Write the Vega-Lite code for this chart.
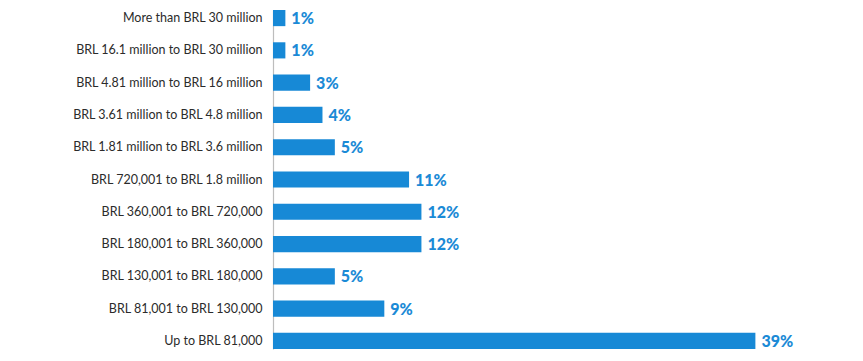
{
  "$schema": "https://vega.github.io/schema/vega-lite/v6.json",
  "width": 590,
  "height": 339,
  "autosize": {"type": "none"},
  "padding": {"left": 273, "top": 10, "right": 0, "bottom": 12},
  "background": "white",
  "config": {"view": {"stroke": null}},
  "data": {
    "values": [
      {"band": "More than BRL 30 million", "pct": 1, "label": "1%"},
      {"band": "BRL 16.1 million to BRL 30 million", "pct": 1, "label": "1%"},
      {"band": "BRL 4.81 million to BRL 16 million", "pct": 3, "label": "3%"},
      {"band": "BRL 3.61 million to BRL 4.8 million", "pct": 4, "label": "4%"},
      {"band": "BRL 1.81 million to BRL 3.6 million", "pct": 5, "label": "5%"},
      {"band": "BRL 720,001 to BRL 1.8 million", "pct": 11, "label": "11%"},
      {"band": "BRL 360,001 to BRL 720,000", "pct": 12, "label": "12%"},
      {"band": "BRL 180,001 to BRL 360,000", "pct": 12, "label": "12%"},
      {"band": "BRL 130,001 to BRL 180,000", "pct": 5, "label": "5%"},
      {"band": "BRL 81,001 to BRL 130,000", "pct": 9, "label": "9%"},
      {"band": "Up to BRL 81,000", "pct": 39, "label": "39%"}
    ]
  },
  "encoding": {
    "y": {
      "field": "band",
      "type": "nominal",
      "sort": null,
      "scale": {"paddingInner": 0.5, "paddingOuter": 0},
      "axis": {
        "title": null,
        "ticks": false,
        "domainColor": "#bdbdbd",
        "domainWidth": 1.2,
        "labelFont": "Lato",
        "labelFontSize": 12.5,
        "labelColor": "#2b2b2b",
        "labelPadding": 11,
        "labelLimit": 300
      }
    },
    "x": {
      "field": "pct",
      "type": "quantitative",
      "scale": {"domain": [0, 47.7], "nice": false},
      "axis": null
    }
  },
  "layer": [
    {"mark": {"type": "bar", "color": "#1789d6"}},
    {
      "mark": {
        "type": "text",
        "align": "left",
        "baseline": "middle",
        "dx": 6,
        "dy": 1,
        "font": "Lato",
        "fontWeight": 900,
        "fontSize": 16,
        "color": "#1b8ad6"
      },
      "encoding": {"text": {"field": "label", "type": "nominal"}}
    }
  ]
}
